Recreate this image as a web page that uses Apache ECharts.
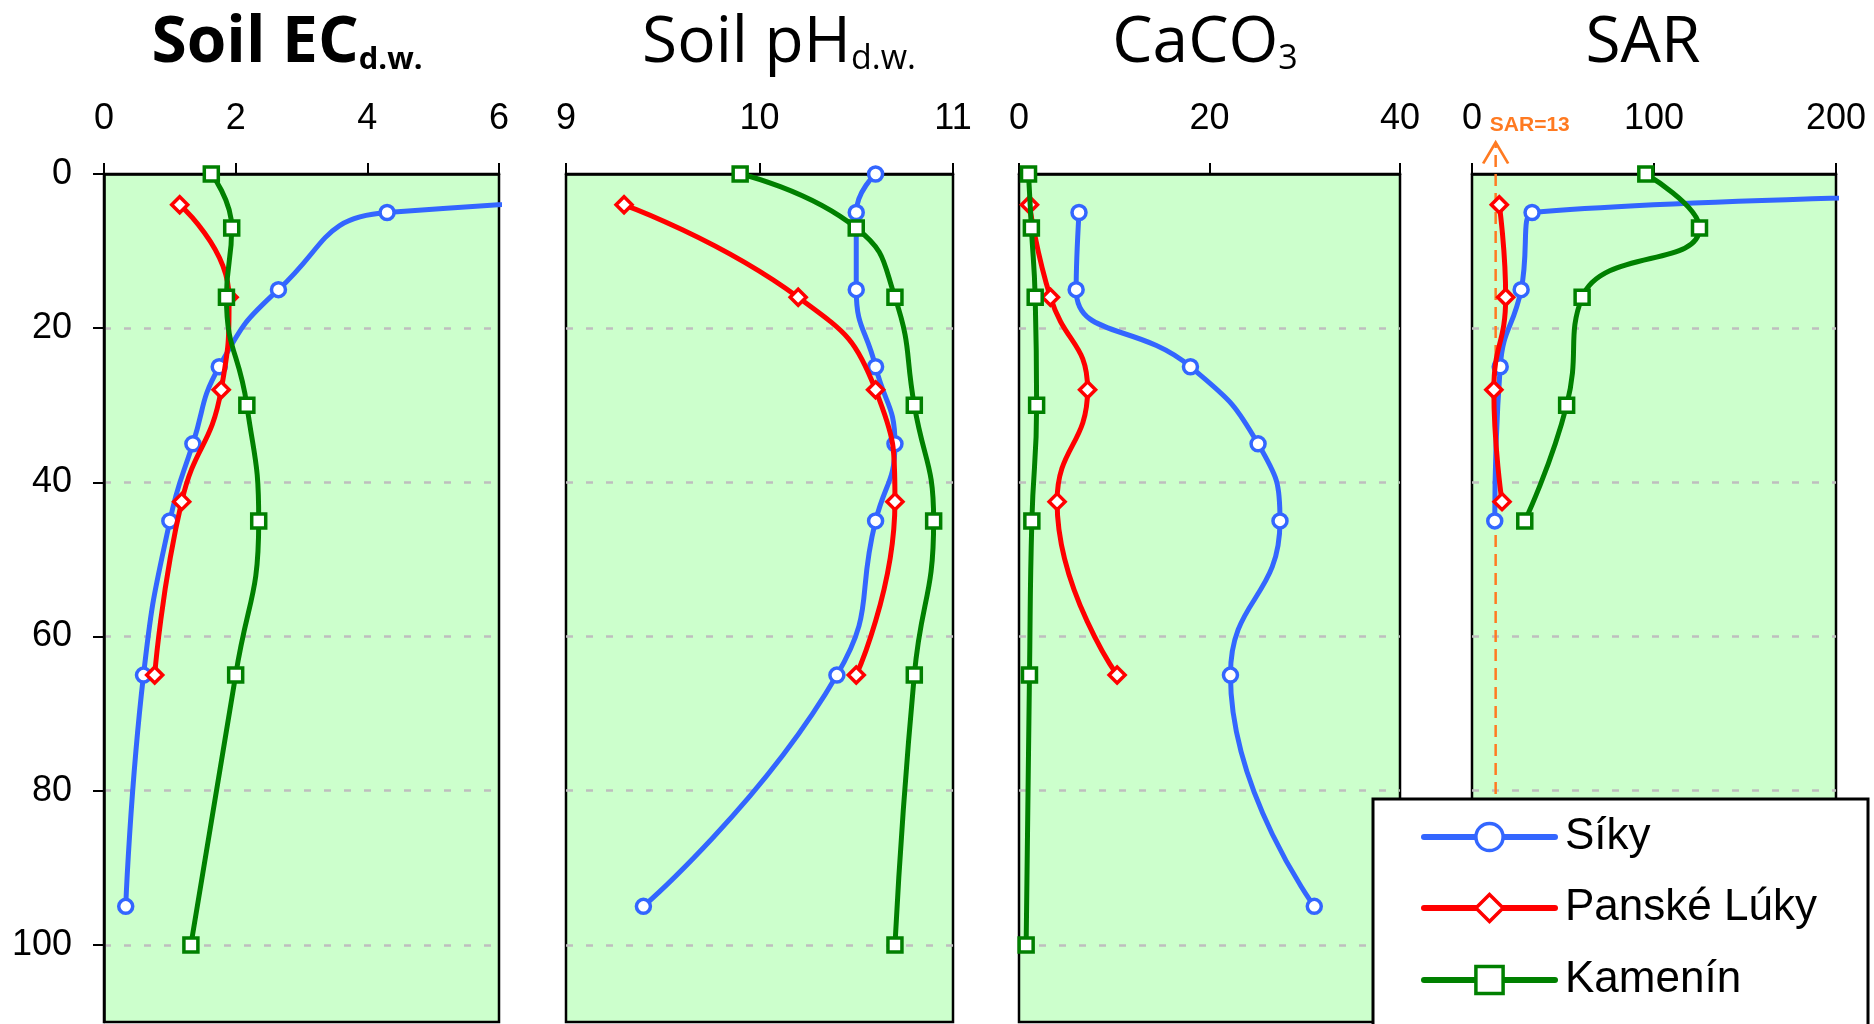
<!DOCTYPE html>
<html>
<head>
<meta charset="utf-8">
<script src="https://cdn.jsdelivr.net/npm/echarts@6/dist/echarts.min.js"></script>
<style>
html,body{margin:0;padding:0;background:#fff;}
#chart{width:1874px;height:1024px;}
</style>
</head>
<body>
<div id="chart"></div>
<script>
// ---------- DATA ----------
const seriesNames = ['Síky', 'Panské Lúky', 'Kamenín'];

// Soil EC (d.w.)
const ecSikyDepth = [0, 5, 15, 25, 35, 45, 65, 95];
const ecSikyValue = [20, 4.3, 2.65, 1.75, 1.35, 1.0, 0.6, 0.33];
const ecPanskeDepth = [4, 16, 28, 42.5, 65];
const ecPanskeValue = [1.15, 1.9, 1.78, 1.18, 0.77];
const ecKameninDepth = [0, 7, 16, 30, 45, 65, 100];
const ecKameninValue = [1.63, 1.94, 1.86, 2.17, 2.35, 2.0, 1.32];

// Soil pH (d.w.)
const phSikyDepth = [0, 5, 15, 25, 35, 45, 65, 95];
const phSikyValue = [10.6, 10.5, 10.5, 10.6, 10.7, 10.6, 10.4, 9.4];
const phPanskeDepth = [4, 16, 28, 42.5, 65];
const phPanskeValue = [9.3, 10.2, 10.6, 10.7, 10.5];
const phKameninDepth = [0, 7, 16, 30, 45, 65, 100];
const phKameninValue = [9.9, 10.5, 10.7, 10.8, 10.9, 10.8, 10.7];

// CaCO3
const caSikyDepth = [5, 15, 25, 35, 45, 65, 95];
const caSikyValue = [6.3, 6.0, 18.0, 25.1, 27.4, 22.2, 31.0];
const caPanskeDepth = [4, 16, 28, 42.5, 65];
const caPanskeValue = [1.1, 3.3, 7.2, 4.0, 10.3];
const caKameninDepth = [0, 7, 16, 30, 45, 65, 100];
const caKameninValue = [1.0, 1.3, 1.7, 1.85, 1.35, 1.1, 0.75];

// SAR
const sarSikyDepth = [0, 5, 15, 25, 45];
const sarSikyValue = [1700, 33, 27, 15.5, 12.5];
const sarPanskeDepth = [4, 16, 28, 42.5];
const sarPanskeValue = [15, 18.5, 12, 16.5];
const sarKameninDepth = [0, 7, 16, 30, 45];
const sarKameninValue = [95.5, 125, 60.5, 52, 29];

// SAR threshold reference line
const sarThreshold = 13;
const sarThresholdDepths = [110, -4.1];

// Axes
const depthMin = 0, depthMax = 110, depthStep = 20;
const depthTicks = [0, 20, 40, 60, 80, 100];
const xMins = [0, 9, 0, 0];
const xMaxs = [6, 11, 40, 200];
const xSteps = [2, 1, 20, 100];

// ---------- LAYOUT / STYLE ----------
const grids = [
  {left: 104, width: 395},
  {left: 566, width: 387},
  {left: 1019, width: 381},
  {left: 1472, width: 364}
];
const gridTop = 174, gridHeight = 848;
const styles = [
  {color: '#3366FF', symbol: 'circle', size: 14},
  {color: '#FF0000', symbol: 'diamond', size: 16},
  {color: '#008000', symbol: 'rect', size: 14}
];
const orange = '#FF7A21';
const labelFont = 'Liberation Sans, Arial, sans-serif';
const titleFont = 'Open Sans, Liberation Sans, sans-serif';
const legendTops = [815, 886, 958];

const panelData = [
  [[ecSikyValue, ecSikyDepth], [ecPanskeValue, ecPanskeDepth], [ecKameninValue, ecKameninDepth]],
  [[phSikyValue, phSikyDepth], [phPanskeValue, phPanskeDepth], [phKameninValue, phKameninDepth]],
  [[caSikyValue, caSikyDepth], [caPanskeValue, caPanskeDepth], [caKameninValue, caKameninDepth]],
  [[sarSikyValue, sarSikyDepth], [sarPanskeValue, sarPanskeDepth], [sarKameninValue, sarKameninDepth]]
];

function zip(values, depths) { return values.map((v, i) => [v, depths[i]]); }

const gridOpts = [], xAxes = [], yAxes = [], series = [];
grids.forEach((g, p) => {
  gridOpts.push({
    left: g.left, top: gridTop, width: g.width, height: gridHeight,
    show: true, backgroundColor: '#CCFFCC', borderColor: '#000', borderWidth: 2.5,
    containLabel: false, outerBoundsMode: 'none'
  });
  xAxes.push({
    type: 'value', gridIndex: p, position: 'top',
    min: xMins[p], max: xMaxs[p], interval: xSteps[p],
    axisLine: {show: true, lineStyle: {color: '#000', width: 2.5}},
    axisTick: {show: true, length: 11, inside: false, lineStyle: {color: '#000', width: 2}},
    axisLabel: {show: true, color: '#000', fontSize: 36, fontFamily: labelFont, margin: 37},
    splitLine: {show: false}
  });
  yAxes.push({
    type: 'value', gridIndex: p, inverse: true,
    min: depthMin, max: depthMax, interval: depthStep,
    axisLine: {show: p === 0, lineStyle: {color: '#000', width: 2.5}},
    axisTick: {show: p === 0, length: 11, customValues: depthTicks, lineStyle: {color: '#000', width: 2}},
    axisLabel: {show: p === 0, customValues: depthTicks, color: '#000', fontSize: 36, fontFamily: labelFont, margin: 32},
    splitLine: {show: true, showMinLine: false,
      lineStyle: {color: '#BEBEBE', width: 2.5, type: [7, 13]}}
  });
  panelData[p].forEach((d, s) => {
    const st = styles[s];
    series.push({
      name: seriesNames[s], type: 'line', xAxisIndex: p, yAxisIndex: p,
      data: zip(d[0], d[1]),
      smooth: 0.5, clip: true,
      symbol: st.symbol, symbolSize: st.size, showSymbol: true,
      lineStyle: {color: st.color, width: 5},
      itemStyle: {color: '#fff', borderColor: st.color, borderWidth: 3.5},
      emphasis: {disabled: true}, z: 3 + s
    });
  });
});

// SAR = 13 dashed reference line with arrow and label
series.push({
  name: 'SAR=13', type: 'line', xAxisIndex: 3, yAxisIndex: 3, clip: false, silent: true,
  symbol: 'none', showSymbol: true, z: 2,
  lineStyle: {color: orange, width: 2.5, type: [12, 7]},
  data: [
    {value: [sarThreshold, sarThresholdDepths[0]], symbol: 'none'},
    {value: [sarThreshold, sarThresholdDepths[1]],
     symbol: 'path://M0,21 L12.5,0 L25,21', symbolSize: [25, 21], symbolOffset: [0, '50%'],
     itemStyle: {color: 'rgba(0,0,0,0)', borderColor: orange, borderWidth: 2.5},
     label: {show: true, formatter: 'SAR=' + sarThreshold, position: [8, -27],
       color: orange, fontWeight: 'bold', fontSize: 21, fontFamily: labelFont}}
  ],
  emphasis: {disabled: true}
});

const titles = [
  {x: 287, text: '{m|Soil EC}{s|d.w.}', bold: true, sub: 31},
  {x: 779, text: '{m|Soil pH}{s|d.w.}', bold: false, sub: 34},
  {x: 1205, text: '{m|CaCO}{s|3}', bold: false, sub: 34},
  {x: 1643, text: '{m|SAR}', bold: false, sub: 34}
];
const graphics = titles.map(t => ({
  type: 'text', x: t.x, y: 12, z: 10,
  style: {
    text: t.text, align: 'center', verticalAlign: 'top',
    rich: {
      m: {fontSize: 64, fontFamily: titleFont, fontWeight: t.bold ? 'bold' : 'normal', color: '#000',
          lineHeight: 64, verticalAlign: 'bottom'},
      s: {fontSize: t.sub, fontFamily: titleFont, fontWeight: t.bold ? 'bold' : 'normal', color: '#000',
          lineHeight: 64 - 2 * 0.388 * (64 - t.sub), verticalAlign: 'bottom'}
    }
  }
}));
// legend frame
graphics.push({
  type: 'rect', z: 15, silent: true,
  shape: {x: 1373, y: 799, width: 495, height: 260},
  style: {fill: '#fff', stroke: '#000', lineWidth: 3}
});

const legends = seriesNames.map((name, i) => ({
  data: [name], orient: 'vertical',
  left: 1421, top: legendTops[i], padding: 0,
  itemWidth: 131, itemHeight: 34,
  textStyle: {fontSize: 44, fontFamily: labelFont, color: '#000', lineHeight: 34, padding: [0, 0, 0, 5]},
  lineStyle: {width: 6, cap: 'round'},
  itemStyle: {borderWidth: 3.5},
  selectedMode: false, z: 20
}));

const chart = echarts.init(document.getElementById('chart'), null, {renderer: 'canvas'});
chart.setOption({
  animation: false,
  backgroundColor: '#fff',
  grid: gridOpts,
  xAxis: xAxes,
  yAxis: yAxes,
  series: series,
  graphic: graphics,
  legend: legends
});
</script>
</body>
</html>
